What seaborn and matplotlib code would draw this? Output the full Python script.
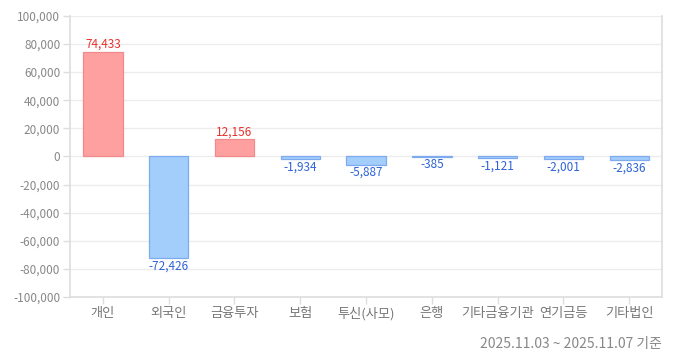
import matplotlib
matplotlib.use("Agg")
import matplotlib.pyplot as plt
import seaborn as sns
import pandas as pd
from matplotlib.ticker import FuncFormatter

categories = ["개인", "외국인", "금융투자", "보험", "투신(사모)", "은행", "기타금융기관", "연기금등", "기타법인"]
values = [74433, -72426, 12156, -1934, -5887, -385, -1121, -2001, -2836]
yticks = [-100000, -80000, -60000, -40000, -20000, 0, 20000, 40000, 60000, 80000, 100000]
footer = "2025.11.03 ~ 2025.11.07 기준"

sns.set_theme(style="white")
plt.rcParams['font.family'] = ['Noto Sans CJK KR', 'DejaVu Sans']

df = pd.DataFrame({"cat": categories, "val": values})
df["sign"] = ["pos" if v >= 0 else "neg" for v in values]

fig = plt.figure(figsize=(7, 3.6), dpi=100)
ax = fig.add_axes([0.1, 0.175, 0.846, 0.781])

pal = {"pos": "#ffa0a0", "neg": "#a3cdfb"}
sns.barplot(data=df, x="cat", y="val", hue="sign", palette=pal, dodge=False,
            width=0.6, legend=False, ax=ax, saturation=1)
edge = {"pos": "#f08a8a", "neg": "#7eaaf0"}
for patch in ax.patches:
    h = patch.get_height()
    if patch.get_width() == 0:
        continue
    patch.set_edgecolor(edge["pos"] if h >= 0 else edge["neg"])
    patch.set_linewidth(0.9)

for i, v in enumerate(values):
    if v >= 0:
        ax.text(i, v + 700, f"{v:,}", ha="center", va="bottom", color="#e8312e", fontsize=8.5)
    else:
        ax.text(i, v - 900, f"{v:,}", ha="center", va="top", color="#2d63d6", fontsize=8.5)

ax.set_ylim(-100000, 100000)
ax.set_xlim(-0.5, len(categories) - 0.5)
ax.set_yticks(yticks)
ax.yaxis.set_major_formatter(FuncFormatter(lambda x, p: f"{int(x):,}"))
ax.grid(axis="y", color="#ececec", linewidth=1)
ax.set_axisbelow(True)
ax.set_xlabel("")
ax.set_ylabel("")
for s in ["left", "bottom", "right", "top"]:
    ax.spines[s].set_visible(True)
    ax.spines[s].set_color("#dddddd")
    ax.spines[s].set_linewidth(1.2)
ax.spines["top"].set_visible(False)
ax.tick_params(axis="y", colors="#888888", labelsize=8.5, length=5, width=1, color="#dddddd", left=True, pad=2)
ax.tick_params(axis="x", colors="#777777", labelsize=9.5, length=5, width=1, color="#dddddd", bottom=True, pad=2)
for lab in ax.get_yticklabels():
    lab.set_color("#888888")
for lab in ax.get_xticklabels():
    lab.set_color("#777777")

fig.text(0.945, 0.045, footer, ha="right", va="center", color="#888888", fontsize=10)

fig.savefig("out.png", dpi=100)
